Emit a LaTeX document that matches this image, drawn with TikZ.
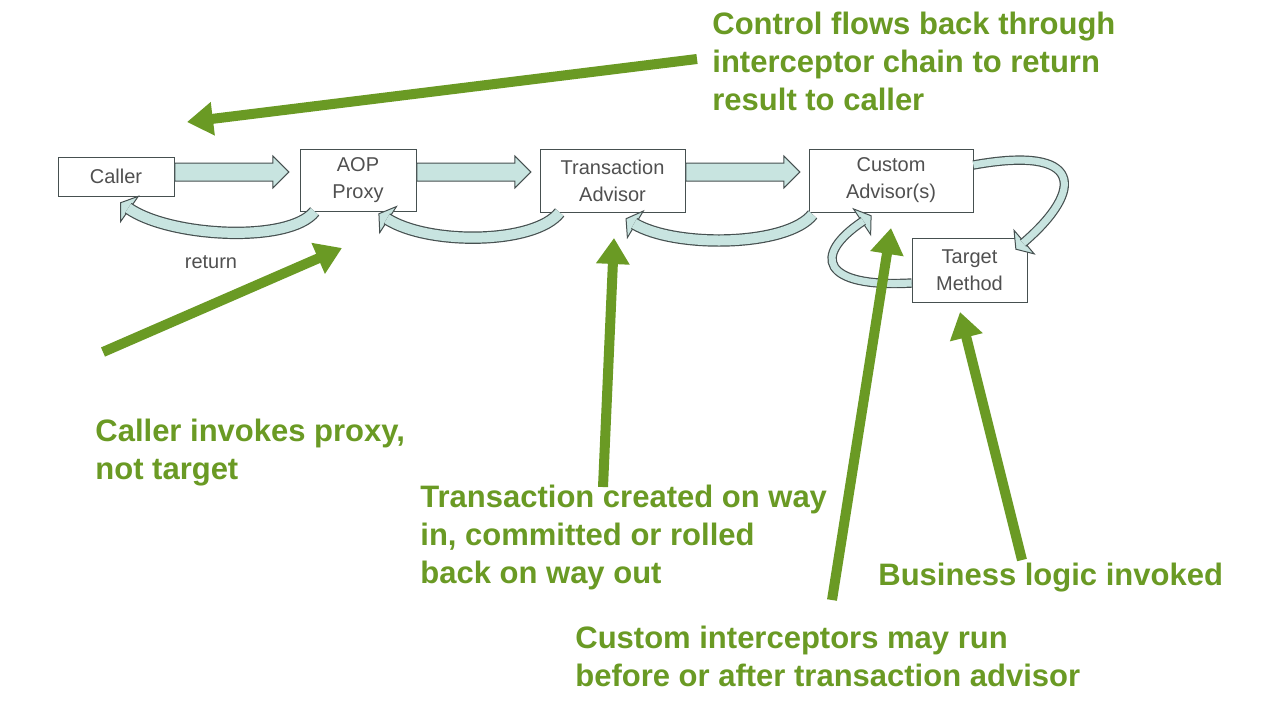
\documentclass[tikz,border=0pt]{standalone}
\usepackage{fontspec}
\setmainfont{Liberation Sans}
\usetikzlibrary{arrows.meta,shapes.arrows}

\definecolor{agreen}{RGB}{106,154,36}
\definecolor{bandfill}{RGB}{200,228,224}
\definecolor{bandedge}{RGB}{70,80,80}
\definecolor{boxtext}{RGB}{80,80,80}

\tikzset{
  box/.style={draw=bandedge, fill=white, align=center, text=boxtext,
    font=\fontsize{10}{13.5}\selectfont, inner sep=0pt},
  blockarr/.style={single arrow, draw=bandedge, fill=bandfill, line width=0.5pt,
    minimum height=57pt, inner xsep=0pt, inner ysep=4.25pt,
    single arrow head extend=3.5pt, anchor=west},
  retarrow/.style={draw=bandedge, line width=0.5pt,
    -{Triangle[length=6pt, width=17pt, fill=bandfill]},
    postaction={draw=bandedge, double=bandfill, double distance=#1,
      line width=0.6pt, -, shorten >=5pt}},
  retarrow/.default=5pt,
  greenarr/.style={draw=agreen, line width=5pt, -{Triangle[length=13pt, width=16pt]}},
  note/.style={text=agreen, font=\bfseries\fontsize{15.5}{19}\selectfont,
    align=left, anchor=base west, inner sep=0pt}
}

\begin{document}
\begin{tikzpicture}[x=0.5pt, y=-0.5pt]
% page
\path[fill=white, use as bounding box] (0,0) rectangle (1262,724);

% boxes
\node[box, minimum width=58pt, minimum height=19.5pt] (caller) at (116,176.5) {Caller};
\node[box, minimum width=58pt, minimum height=31pt] (proxy) at (358,180) {AOP\\Proxy};
\node[box, minimum width=72.5pt, minimum height=31.5pt] (trans) at (612.5,180.5) {Transaction\\Advisor};
\node[box, minimum width=82pt, minimum height=31.5pt] (custom) at (891,180.5) {Custom\\Advisor(s)};
\node[box, minimum width=57.5pt, minimum height=32pt] (target) at (969.5,270) {Target\\Method};

% calls going in
\node[blockarr] (callproxy) at ([yshift=2.25pt]caller.east) {};
\node[blockarr] (calltrans) at ([yshift=4pt]proxy.east) {};
\node[blockarr] (callcustom) at ([yshift=4.25pt]trans.east) {};

% returns
\draw[retarrow] ([xshift=7.5pt]proxy.south west) .. controls +(-25,32) and +(50,35) .. ([shift={(2pt,-3pt)}]caller.south);
\draw[retarrow] ([xshift=10pt]trans.south west) .. controls +(-25,32) and +(50,32) .. ([shift={(-19pt,-1pt)}]proxy.south east);
\draw[retarrow] ([shift={(2pt,-1pt)}]custom.south west) .. controls +(-25,32) and +(50,30) .. ([shift={(6.5pt,-3pt)}]trans.south);
\draw[retarrow=3.5pt] ([yshift=7.75pt]custom.east) .. controls +(110,-20) and +(70,-60) .. ([shift={(-6pt,-6pt)}]target.north east);
\draw[retarrow=3.5pt] ([yshift=-6.5pt]target.west) .. controls +(-90,5) and +(-60,40) .. ([shift={(31.5pt,-1.5pt)}]custom.south west);

\node[font=\fontsize{10}{12}\selectfont, text=boxtext] (retlabel) at (211,262) {return};

% notes (placed at the baseline of their last line)
\node[note] (ctrltext) at (712,110) {Control flows back through\\interceptor chain to return\\result to caller};
\node[note] (callertext) at (95,479) {Caller invokes proxy,\\not target};
\node[note] (txtext) at (420,583) {Transaction created on way\\in, committed or rolled\\back on way out};
\node[note] (bizltext) at (878,585) {Business logic invoked};
\node[note] (custtext) at (575,686) {Custom interceptors may run\\before or after transaction advisor};

% pointers
\coordinate (ctrls) at (697,59);   \coordinate (ctrle) at (187,122);
\coordinate (callers) at (103,352); \coordinate (callere) at (342,248);
\coordinate (txs) at (603,487);    \coordinate (txe) at (614,238);
\coordinate (custs) at (832,600);  \coordinate (custe) at (891,228);
\coordinate (bizs) at (1022,560);  \coordinate (bize) at (960,312);
\draw[greenarr] (ctrls) -- (ctrle);
\draw[greenarr] (callers) -- (callere);
\draw[greenarr] (txs) -- (txe);
\draw[greenarr] (custs) -- (custe);
\draw[greenarr] (bizs) -- (bize);

\end{tikzpicture}
\end{document}
